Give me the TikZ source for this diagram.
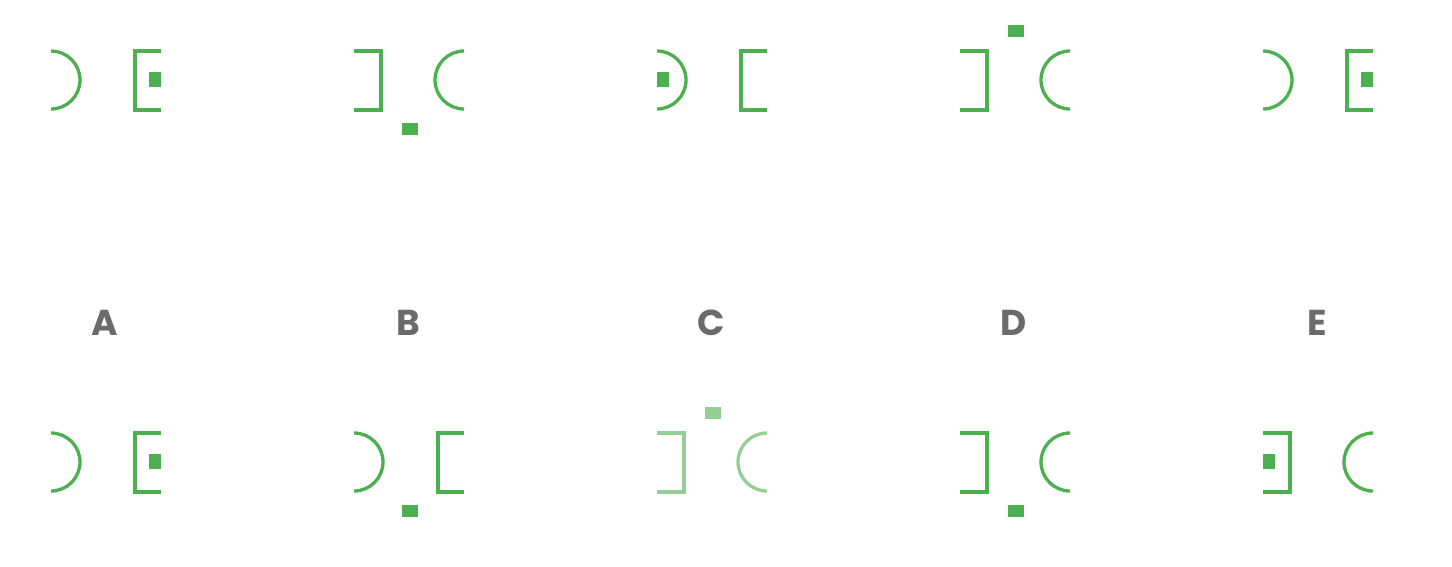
\documentclass[tikz,border=0pt]{standalone}
\usepackage{fontspec}
\newfontfamily\lab{Poppins}
\definecolor{grn}{HTML}{4CAF50}
\definecolor{grnf}{HTML}{94CF96}
\definecolor{labgray}{HTML}{6B6B6B}
\tikzset{
  arcline/.style={line width=3.3pt},
  brk/.style={line width=4pt, miter limit=10},
  lbl/.style={text=labgray, font=\lab\bfseries\fontsize{36}{36}\selectfont, inner sep=0pt, anchor=center}
}
% panel pieces, #1 = x0, #2 = y offset
\newcommand{\lpar}[2]{\begin{scope}\clip (#1,#2) rectangle ++(110,140); \draw[arcline] (#1,80+#2) circle[radius=29]; \end{scope}}
\newcommand{\rpar}[2]{\begin{scope}\clip (#1,#2) rectangle ++(110,140); \draw[arcline] (#1+110,80+#2) circle[radius=29]; \end{scope}}
\newcommand{\lbrk}[2]{\draw[brk] (#1+110,51+#2) -- (#1+84,51+#2) -- (#1+84,109.5+#2) -- (#1+110,109.5+#2);}
\newcommand{\rbrk}[2]{\draw[brk] (#1,51+#2) -- (#1+26.5,51+#2) -- (#1+26.5,109.5+#2) -- (#1,109.5+#2);}
\newcommand{\sqinr}[2]{\fill (#1+98,72+#2) rectangle (#1+110,87+#2);}
\newcommand{\sqinl}[2]{\fill (#1,72+#2) rectangle (#1+12,87+#2);}
\newcommand{\sqbel}[2]{\fill (#1+47.5,123+#2) rectangle (#1+63.5,135+#2);}
\newcommand{\sqabv}[2]{\fill (#1+47.5,25+#2) rectangle (#1+63.5,37+#2);}
\begin{document}
\begin{tikzpicture}[x=1pt,y=-1pt]
\useasboundingbox (0,0) rectangle (1452,566);
\begin{scope}[draw=grn, fill=grn]
% top row
\lpar{51}{0}\lbrk{51}{0}\sqinr{51}{0}
\rbrk{354}{0}\rpar{354}{0}\sqbel{354}{0}
\lpar{657}{0}\sqinl{657}{0}\lbrk{657}{0}
\rbrk{960}{0}\rpar{960}{0}\sqabv{960}{0}
\lpar{1263}{0}\lbrk{1263}{0}\sqinr{1263}{0}
% bottom row
\lpar{51}{382}\lbrk{51}{382}\sqinr{51}{382}
\lpar{354}{382}\lbrk{354}{382}\sqbel{354}{382}
\rbrk{960}{382}\rpar{960}{382}\sqbel{960}{382}
\rbrk{1263}{382}\sqinl{1263}{382}\rpar{1263}{382}
\end{scope}
\begin{scope}[draw=grnf, fill=grnf]
\rbrk{657}{382}\rpar{657}{382}\sqabv{657}{382}
\end{scope}
% labels
\node[lbl] (la) at (105,323) {A};
\node[lbl] (lb) at (408,323) {B};
\node[lbl] (lc) at (711,323) {C};
\node[lbl] (ld) at (1014,323) {D};
\node[lbl] (le) at (1317,323) {E};
\end{tikzpicture}
\end{document}
